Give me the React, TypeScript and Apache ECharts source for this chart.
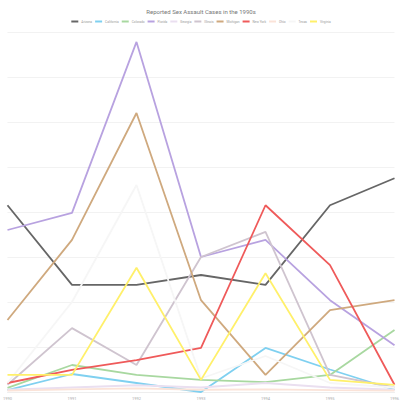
import React, { useEffect, useRef } from "react";
import * as echarts from "echarts";

const title = "Reported Sex Assault Cases in the 1990s";
const years = ["1990", "1991", "1992", "1993", "1994", "1995", "1996"];
const seriesNames = [
  "Arizona", "California", "Colorado", "Florida", "Georgia", "Illinois",
  "Michigan", "New York", "Ohio", "Texas", "Virginia",
];
const seriesColors = [
  "#666666", "#7fd0f0", "#a8d8a0", "#b8a2e0", "#eadff0", "#cfc4cf",
  "#cfa97e", "#ef5a5a", "#fbe3d8", "#f6f6f6", "#fff06a",
];
const values: number[][] = [
  [41.5, 23.8, 23.8, 26, 23.8, 41.5, 47.5],
  [0.4, 4, 2, 0, 9.8, 5, 0.5],
  [0.9, 6, 3.8, 2.7, 2.2, 3.8, 13.8],
  [36, 39.8, 77.8, 30, 33.8, 20.4, 10.4],
  [0.5, 1, 1.5, 1, 2, 1, 0.5],
  [1.6, 14.2, 6, 30, 35.6, 3.8, 1],
  [16, 33.8, 62, 20.4, 3.8, 18.2, 20.4],
  [2, 4.9, 7.1, 9.8, 41.5, 28.2, 1.6],
  [0.3, 0.6, 0.8, 0.5, 0.6, 0.4, 0.3],
  [2, 20, 46, 3, 8, 2, 1],
  [3.8, 3.8, 27.6, 2.7, 26.4, 2.7, 1.6],
];

export default function App() {
  const ref = useRef<HTMLDivElement>(null);
  useEffect(() => {
    if (!ref.current) return;
    const chart = echarts.init(ref.current, null, { renderer: "svg" });
    chart.setOption({
      animation: false,
      backgroundColor: "#ffffff",
      title: {
        text: title,
        left: "center",
        top: 3,
        textStyle: { fontSize: 6, color: "#777", fontWeight: "normal", fontFamily: "Roboto" },
      },
      legend: {
        top: 15,
        left: "center",
        itemWidth: 7,
        itemHeight: 2,
        itemGap: 3,
        icon: "rect",
        textStyle: { fontSize: 3.2, color: "#999", fontFamily: "Roboto", padding: [0, 0, 0, -2] },
        data: seriesNames,
      },
      grid: { left: 5, right: 2, top: 32, bottom: 13, containLabel: false },
      xAxis: {
        type: "category",
        data: years,
        boundaryGap: false,
        axisLine: { lineStyle: { color: "#eee" } },
        axisTick: { show: false },
        axisLabel: { fontSize: 4, color: "#aaa", margin: 4, fontFamily: "Roboto" },
      },
      yAxis: {
        type: "value",
        min: 0,
        max: 80,
        interval: 10,
        axisLabel: { show: false },
        axisLine: { show: false },
        axisTick: { show: false },
        splitLine: { lineStyle: { color: "#f2f2f2", width: 1 } },
      },
      series: seriesNames.map((name, i) => ({
        name,
        type: "line",
        data: values[i],
        symbol: "none",
        lineStyle: { width: 1.8, color: seriesColors[i] },
        itemStyle: { color: seriesColors[i] },
      })),
    });
    return () => chart.dispose();
  }, []);
  return (
    <div
      ref={ref}
      style={{ position: "fixed", left: 0, top: 0, width: 402, height: 405 }}
    />
  );
}
